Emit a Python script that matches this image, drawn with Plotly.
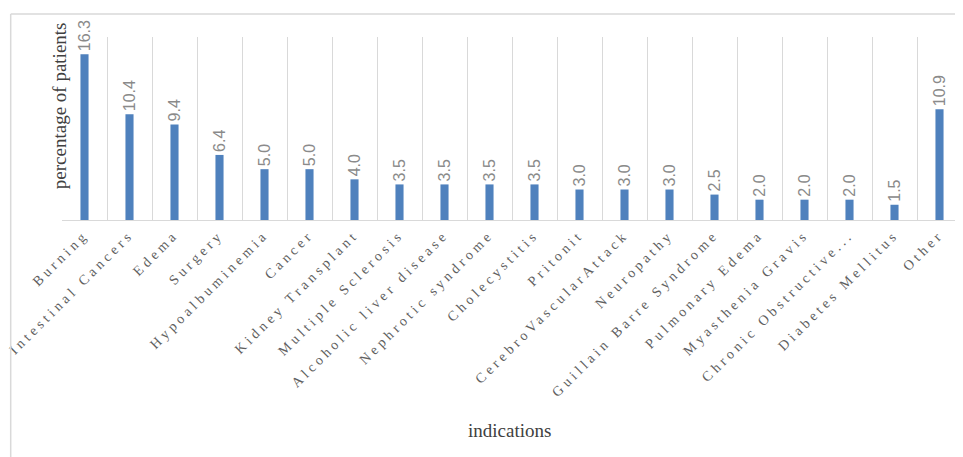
import plotly.graph_objects as go

categories = ["Burning", "Intestinal Cancers", "Edema", "Surgery", "Hypoalbuminemia",
              "Cancer", "Kidney Transplant", "Multiple Sclerosis", "Alcoholic liver disease",
              "Nephrotic syndrome", "Cholecystitis", "Pritonit", "CerebroVascularAttack",
              "Neuropathy", "Guillain Barre Syndrome", "Pulmonary Edema", "Myasthenia Gravis",
              "Chronic Obstructive...", "Diabetes Mellitus", "Other"]
values = [16.3, 10.4, 9.4, 6.4, 5.0, 5.0, 4.0, 3.5, 3.5, 3.5, 3.5, 3.0, 3.0, 3.0,
          2.5, 2.0, 2.0, 2.0, 1.5, 10.9]
y_title = "percentage of patients"
x_title = "indications"

fig = go.Figure(go.Bar(
    x=categories, y=values,
    width=0.18,
    marker=dict(color="#4f81bd", line=dict(width=0)),
    text=[f"{v:.1f}" for v in values],
    textposition="outside",
    textangle=-90,
    cliponaxis=False,
    textfont=dict(family="Liberation Sans", size=16, color="#8a8a8a"),
))

fig.update_layout(
    width=955, height=449,
    margin=dict(l=54, r=1, t=29, b=237),
    paper_bgcolor="white", plot_bgcolor="white",
    showlegend=False,
    uniformtext=dict(minsize=16, mode="show"),
    xaxis=dict(
        tickson="boundaries", showgrid=True, gridcolor="#d9d9d9", gridwidth=1,
        showline=True, linecolor="#d9d9d9", linewidth=1,
        ticks="", tickangle=-45, automargin=False,
        tickfont=dict(family="Liberation Serif", size=14, color="#606060"),
        range=[-0.5, 19.5],
    ),
    yaxis=dict(range=[0, 18], showgrid=False, showticklabels=False,
               zeroline=False, showline=False, ticks=""),
    annotations=[
        dict(text=y_title, xref="paper", yref="paper", x=-0.002, y=0.623,
             xanchor="center", yanchor="middle", textangle=-90, showarrow=False,
             font=dict(family="Liberation Serif", size=19, color="#404040")),
        dict(text=x_title, xref="paper", yref="paper", x=0.497, y=-1.148,
             xanchor="center", yanchor="middle", showarrow=False,
             font=dict(family="Liberation Serif", size=19, color="#404040")),
    ],
    shapes=[
        dict(type="line", xref="paper", yref="paper", x0=-0.057, x1=1.2,
             y0=1.126, y1=1.126, line=dict(color="#d9d9d9", width=1.5)),
        dict(type="line", xref="paper", yref="paper", x0=-0.057, x1=-0.057,
             y0=1.126, y1=-1.4, line=dict(color="#d9d9d9", width=1.5)),
    ],
)

post = """
var gd = document.getElementById('{plot_id}');
gd.querySelectorAll('.xtick text').forEach(function(t){ t.style.letterSpacing = '3.8px'; });
"""

fig.write_html("out.html", post_script=post)
